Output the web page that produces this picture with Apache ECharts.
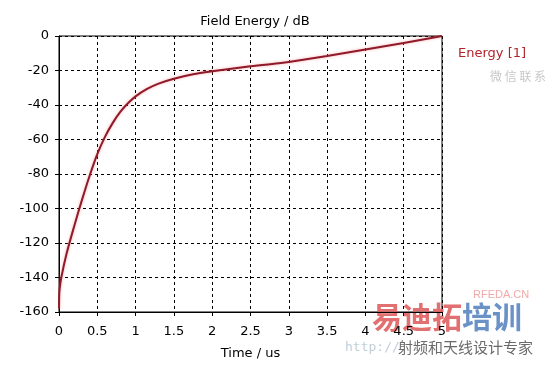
<!DOCTYPE html>
<html>
<head>
<meta charset="utf-8">
<script src="https://cdn.jsdelivr.net/npm/echarts@6/dist/echarts.min.js"></script>
<style>
html,body{margin:0;padding:0;background:#fff;}
#c{width:558px;height:365px;}
</style>
</head>
<body>
<div id="c"></div>
<script>
const seriesName = 'Energy [1]';
const timeUs = [0, 0.003, 0.01, 0.03, 0.1, 0.2, 0.3, 0.4, 0.5, 0.6, 0.7, 0.8, 0.9, 1.0, 1.15, 1.3, 1.5, 1.75, 2.0, 2.5, 2.9, 3.0, 3.5, 4.0, 4.5, 5.0];
const energyDb = [-158, -150, -146, -140, -126, -110, -95, -81, -68.5, -58.5, -50.5, -44, -39, -35, -30.7, -27.6, -24.8, -22.2, -20.5, -17.6, -15.7, -15.1, -11.6, -7.8, -4.1, 0];
const xTicks = ['0','0.5','1','1.5','2','2.5','3','3.5','4','4.5','5'];
const yTicks = ['0','-20','-40','-60','-80','-100','-120','-140','-160'];

const font = 'DejaVu Sans';
const chart = echarts.init(document.getElementById('c'), null, {renderer: 'canvas'});
chart.setOption({
  animation: false,
  backgroundColor: '#fff',
  title: {
    text: 'Field Energy / dB',
    left: 250, top: 10, textAlign: 'center',
    textStyle: {fontFamily: font, fontSize: 13, fontWeight: 'normal', color: '#000'}
  },
  legend: {
    data: [seriesName],
    icon: 'none',
    left: 448, top: 42,
    itemWidth: 0, itemGap: 0,
    textStyle: {fontFamily: font, fontSize: 13, color: '#b0242c'}
  },
  grid: {left: 59, right: 116, top: 36, bottom: 52, show: true, borderColor: '#000', borderWidth: 1, backgroundColor: 'transparent'},
  xAxis: {
    type: 'value', min: 0, max: 5, interval: 0.5,
    name: 'Time / us', nameLocation: 'middle', nameGap: 35,
    nameTextStyle: {fontFamily: font, fontSize: 13, color: '#000'},
    axisLine: {show: true, onZero: false, lineStyle: {color: '#000', width: 1}},
    axisTick: {show: true, length: 4, lineStyle: {color: '#000'}},
    axisLabel: {fontFamily: font, fontSize: 13, color: '#000', margin: 13,
      formatter: (v) => xTicks[Math.round(v / 0.5)] ?? String(v)},
    splitLine: {show: true, lineStyle: {color: '#000', type: [3, 3], width: 1}}
  },
  yAxis: {
    type: 'value', min: -160, max: 0, interval: 20,
    axisLine: {show: true, lineStyle: {color: '#000', width: 1}},
    axisTick: {show: true, length: 4, lineStyle: {color: '#000'}},
    axisLabel: {fontFamily: font, fontSize: 13, color: '#000', margin: 10,
      formatter: (v) => yTicks[Math.round(-v / 20)] ?? String(v)},
    splitLine: {show: true, lineStyle: {color: '#000', type: [3, 3], width: 1}}
  },
  series: [{
    name: seriesName,
    type: 'line',
    data: timeUs.map((t, i) => [t, energyDb[i]]),
    smooth: 0.3,
    showSymbol: false,
    color: '#b0242c',
    lineStyle: {color: '#8e1a2a', width: 2, shadowColor: 'rgba(255,120,120,0.6)', shadowBlur: 3}
  }],
  graphic: [
    {type: 'text', left: 490, top: 70, style: {text: '微 信 联 系', font: '12px "Noto Sans CJK SC"', fill: '#c8c8c8'}},
    {type: 'text', left: 473, top: 289, style: {text: 'RFEDA.CN', font: '11px "Liberation Sans"', fill: '#f2a9a9'}},
    {type: 'text', left: 372, top: 302, style: {text: '易迪拓', font: 'bold 30px "Noto Sans CJK SC"', fill: '#e06060', opacity: 0.9}},
    {type: 'text', left: 462, top: 302, style: {text: '培训', font: 'bold 30px "Noto Sans CJK SC"', fill: '#5a86c0', opacity: 0.9}},
    {type: 'text', left: 345, top: 341, style: {text: 'http://', font: '13px "DejaVu Sans Mono"', fill: '#bfcfd8'}},
    {type: 'text', left: 398, top: 340, style: {text: '射频和天线设计专家', font: '15px "Noto Sans CJK SC"', fill: '#6a6a6a'}}
  ]
});
</script>
</body>
</html>
